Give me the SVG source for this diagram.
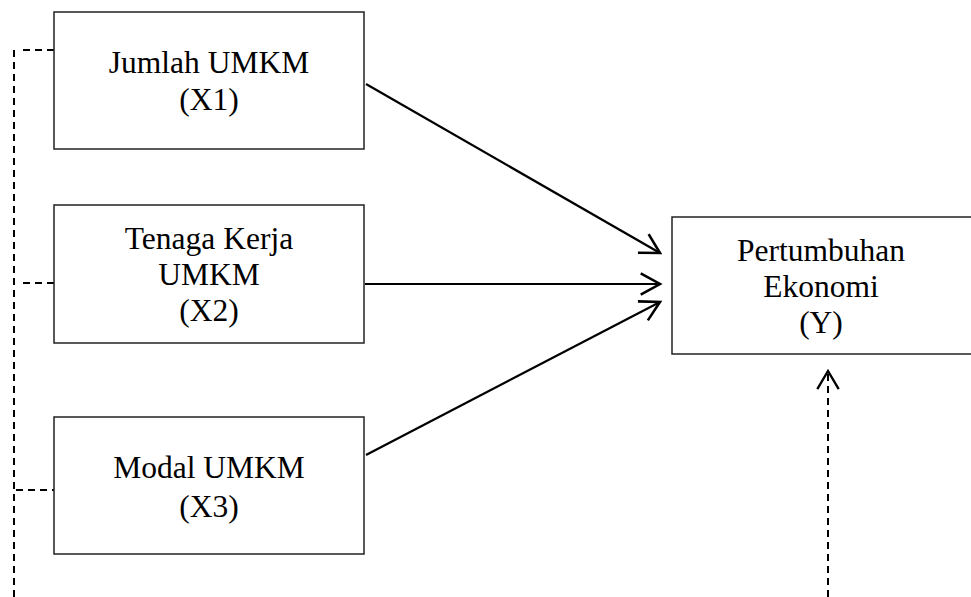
<svg xmlns="http://www.w3.org/2000/svg" width="971" height="597" viewBox="0 0 971 597">
<defs>
<style>
.box{fill:#fff;stroke:#222;stroke-width:1.5}
.t{font-family:"Liberation Serif","Times New Roman",serif;font-size:31.5px;fill:#000;text-anchor:middle}
.solid{stroke:#000;stroke-width:2.2;fill:none}
.dash{stroke:#000;stroke-width:2;fill:none;stroke-dasharray:7 5}
</style>
<marker id="arr" markerUnits="userSpaceOnUse" markerWidth="30" markerHeight="30" viewBox="-22 -14 26 28" refX="0" refY="0" orient="auto">
<path d="M-18,-10 L0,0 L-18,10" fill="none" stroke="#000" stroke-width="2.4"/>
</marker>
<marker id="arrs" markerUnits="userSpaceOnUse" markerWidth="30" markerHeight="30" viewBox="-22 -14 26 28" refX="0" refY="0" orient="auto">
<path d="M-17,-10 L0,0 L-17,10" fill="none" stroke="#000" stroke-width="2.2"/>
</marker>
</defs>
<rect width="971" height="597" fill="#fff"/>
<g id="connectors">
<line class="solid" x1="366" y1="84" x2="660" y2="253" marker-end="url(#arr)"/>
<line class="solid" x1="365" y1="284" x2="660" y2="284" marker-end="url(#arr)"/>
<line class="solid" x1="366" y1="455" x2="660" y2="302" marker-end="url(#arr)"/>
<line class="dash" x1="14" y1="50" x2="14" y2="597"/>
<line class="dash" x1="23" y1="50" x2="58" y2="50"/>
<line class="dash" x1="23" y1="283" x2="60" y2="283"/>
<line class="dash" x1="16" y1="490" x2="54" y2="490"/>
<line class="dash" x1="828" y1="597" x2="828" y2="371" marker-end="url(#arrs)"/>
</g>
<g id="x1">
<rect class="box" x="54" y="12" width="310" height="137"/>
<text class="t" x="209" y="73">Jumlah UMKM</text>
<text class="t" x="209" y="110">(X1)</text>
</g>
<g id="x2">
<rect class="box" x="54" y="205" width="310" height="138"/>
<text class="t" x="209" y="249">Tenaga Kerja</text>
<text class="t" x="209" y="285">UMKM</text>
<text class="t" x="209" y="321">(X2)</text>
</g>
<g id="x3">
<rect class="box" x="54" y="417" width="310" height="137"/>
<text class="t" x="209" y="478">Modal UMKM</text>
<text class="t" x="209" y="517">(X3)</text>
</g>
<g id="y">
<rect class="box" x="672" y="217" width="305" height="137"/>
<text class="t" x="821" y="261">Pertumbuhan</text>
<text class="t" x="821" y="297">Ekonomi</text>
<text class="t" x="821" y="333">(Y)</text>
</g>
</svg>
